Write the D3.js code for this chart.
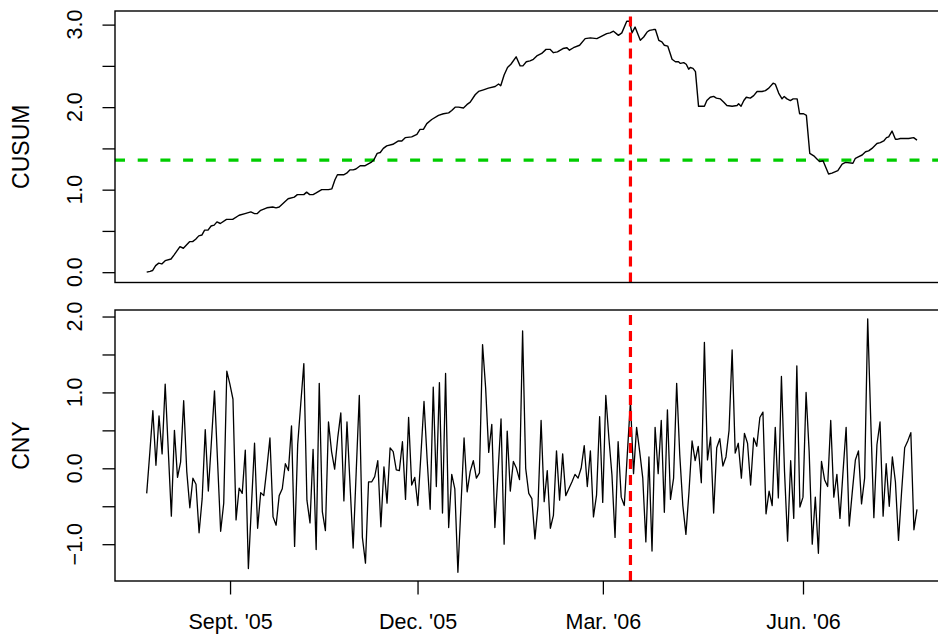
<!DOCTYPE html>
<html>
<head>
<meta charset="utf-8">
<script src="https://cdn.jsdelivr.net/npm/d3@7"></script>
<style>
  body { margin: 0; background: #fff; }
  svg { display: block; font-family: "Liberation Sans", Arial, sans-serif; }
  .tick line { stroke: #000; stroke-width: 1.3; }
</style>
</head>
<body>
<div id="chart"></div>
<script>
// CNY returns, one value per observation
const cny = [
  -0.33,0.20,0.76,0.04,0.69,0.19,1.11,0.24,-0.63,0.50,
  -0.12,0.08,0.89,-0.04,-0.52,-0.13,-0.21,-0.85,-0.40,0.51,
  -0.30,0.35,1.02,0.09,-0.83,-0.46,1.28,1.11,0.91,-0.68,
  -0.26,-0.33,0.24,-1.32,-0.49,0.33,-0.79,-0.32,-0.36,0.00,
  0.40,-0.64,-0.75,-0.36,-0.27,0.06,-0.03,0.56,-1.03,0.31,
  0.85,1.38,-0.42,-0.72,0.25,-1.07,1.12,-0.57,-0.82,0.61,
  0.22,-0.01,0.40,0.73,-0.43,0.61,-0.22,-1.05,-0.04,0.96,
  -0.91,-1.25,-0.18,-0.18,-0.11,0.10,-0.77,0.02,-0.46,0.27,
  0.22,-0.02,-0.03,0.35,-0.41,0.67,-0.22,-0.12,-0.49,0.18,
  0.88,0.13,-0.54,1.07,-0.24,1.13,-0.59,1.25,-0.78,-0.08,
  -0.27,-1.37,-0.49,0.40,-0.31,-0.04,0.10,-0.13,-0.06,1.63,
  1.06,0.21,0.58,-0.78,-0.07,0.65,-1.00,0.49,-0.30,0.09,
  0.00,-0.15,1.81,0.00,-0.33,-0.40,-0.93,-0.49,0.63,-0.44,
  -0.03,-0.79,-0.62,0.23,-0.42,0.19,-0.36,-0.27,-0.18,-0.08,
  -0.13,0.00,0.30,-0.24,0.23,-0.64,-0.35,0.68,-0.45,0.96,
  0.40,-0.09,-0.91,0.35,-0.38,-0.49,0.20,0.88,-0.07,0.54,
  0.22,-0.13,-0.97,0.15,-1.09,0.54,-0.07,0.63,-0.58,0.77,
  -0.41,-0.13,1.12,0.18,-0.49,-0.87,-0.31,0.36,0.10,0.29,
  -0.19,1.66,0.11,0.41,-0.59,0.27,0.39,0.03,0.15,0.50,
  1.56,0.20,0.33,-0.13,0.46,0.33,-0.22,0.40,0.29,0.67,
  0.74,-0.60,-0.30,-0.49,0.54,-0.39,1.21,-0.04,-0.96,0.10,
  -0.66,1.35,-0.51,-0.38,1.00,0.22,-1.00,-0.38,-1.12,0.09,
  -0.15,-0.24,0.63,-0.38,-0.08,-0.66,-0.04,0.54,-0.76,-0.31,
  0.11,0.23,-0.47,-0.13,1.97,0.62,-0.65,0.31,0.61,-0.63,
  0.06,-0.50,0.15,-0.18,-0.95,-0.31,0.27,0.36,0.47,-0.81,
  -0.54
];

// CUSUM process: observation index and value
const cusumIdx = [
  0,1.1,1.9,2.9,3.9,4.9,6,7.9,8.9,10.8,11.9,13.9,14.9,15.9,16.9,17.9,18.8,19.9,20.9,21.9,
  22.8,23.9,25.9,27.9,30,31.9,33.8,35,35.9,37,39,40.9,42,43,45.9,47.9,48.9,51,51.9,52.9,
  54,55,56.8,59,60.1,61.1,61.9,63.9,64.9,66,67,67.9,69.3,70.9,72.8,73.7,74.8,
  75.8,76.8,77.9,79.9,81.7,82.8,83.9,86,87.7,88.7,89.8,90.9,92.5,94.7,96.3,98,99,100.1,
  101.2,102.8,103.9,105,106.6,107.7,109.3,110.9,113.1,114.2,114.9,116,117.1,118.2,119.9,
  121.2,122.1,123.2,124.4,125.5,126.6,128.2,129.6,130.9,132,133.3,135.1,136.4,137.2,138.5,
  140.5,142.3,144,146.1,147.7,149.3,150.4,151.5,153.1,154.2,155.8,156.7,157.5,158.5,
  160.2,161.3,162.4,163.2,164.5,165.1,166.2,167.2,168,169.1,169.9,170.5,171.6,172.6,173.2,
  174.3,175.1,175.9,176.4,177.3,178.1,179.1,181,181.8,182.9,184,184.9,186.2,187.3,188.3,
  190,191.6,192.1,192.9,193.8,194.6,195.9,197,198.1,199.7,200.8,201.9,203.3,204,205.1,
  206.2,206.9,207.8,208.9,209.8,211.1,211.9,213.2,214.1,215.2,216.5,217.6,218.4,219.5,
  221.3,222.4,224.3,225.7,226.8,229.2,230,231.1,232.2,233.3,234.3,235.4,237,238.1,239.2,
  240.1,240.8,241.9,243,243.5,244.6,245.7,247.3,248.9,250
];
const cusumVal = [
  0.00,0.01,0.02,0.08,0.11,0.10,0.14,0.16,0.21,0.31,0.29,0.37,0.37,0.40,0.44,0.45,0.51,0.51,0.56,0.57,
  0.61,0.59,0.64,0.64,0.69,0.71,0.73,0.71,0.71,0.75,0.78,0.79,0.78,0.79,0.89,0.91,0.94,0.94,0.97,0.94,
  0.94,0.96,1.00,1.00,1.01,1.12,1.18,1.18,1.20,1.24,1.24,1.25,1.29,1.29,1.33,1.36,1.44,
  1.45,1.50,1.53,1.55,1.59,1.59,1.63,1.64,1.67,1.73,1.73,1.80,1.85,1.90,1.92,1.93,1.96,2.00,
  2.00,1.99,2.03,2.06,2.15,2.19,2.21,2.23,2.25,2.28,2.26,2.39,2.48,2.52,2.61,
  2.50,2.50,2.55,2.56,2.58,2.62,2.65,2.70,2.70,2.66,2.67,2.71,2.72,2.69,2.72,
  2.75,2.83,2.84,2.83,2.86,2.89,2.90,2.92,2.87,2.90,3.04,3.04,2.90,2.97,
  2.81,2.85,2.91,2.93,2.94,2.94,2.81,2.79,2.75,2.74,2.65,2.58,2.55,2.55,2.53,
  2.54,2.52,2.46,2.48,2.47,2.43,2.01,2.01,2.08,2.12,2.13,2.11,2.10,2.06,2.02,
  2.01,2.02,2.04,2.01,2.08,2.12,2.11,2.14,2.19,2.19,2.20,2.23,2.29,2.28,2.17,
  2.10,2.13,2.10,2.08,2.10,2.10,1.92,1.92,1.90,1.44,1.41,1.37,1.34,1.35,
  1.19,1.20,1.23,1.31,1.33,1.32,1.38,1.40,1.42,1.46,1.47,1.50,1.56,1.57,1.59,
  1.63,1.64,1.71,1.61,1.61,1.62,1.62,1.62,1.63,1.60
];

const boundary = 1.358;      // green dashed level
const breakIdx = 157;        // red dashed break point

const xTickIdx = [27.05, 87.9, 148.05, 213.0];
const xTickLabels = ["Sept. '05", "Dec. '05", "Mar. '06", "Jun. '06"];

const topTicks = [0, 0.5, 1, 1.5, 2, 2.5, 3];
const topLabelVals = [0, 1, 2, 3];
const topLabels = ["0.0", "1.0", "2.0", "3.0"];

const botTicks = [-1, -0.5, 0, 0.5, 1, 1.5, 2];
const botLabelVals = [-1, 0, 1, 2];
const botLabels = ["\u22121.0", "0.0", "1.0", "2.0"];

// Dimensions
const W = 938, H = 634;
const left = 115, right = 948;
const top1 = 11, bot1 = 282.5;
const top2 = 310, bot2 = 581;

const svg = d3.select("#chart").append("svg")
    .attr("width", W)
    .attr("height", H);

svg.append("rect").attr("width", W).attr("height", H).attr("fill", "#fff");

// Scales
const x = d3.scaleLinear()
    .domain([0, cny.length - 1])
    .range([left + 31.7, right - 31]);

const y1 = d3.scaleLinear().domain([-0.125, 3.165]).range([bot1, top1]);
const y2 = d3.scaleLinear().domain([-1.485, 2.086]).range([bot2, top2]);

function panel(yScale, yTop, yBot, ticks, labelVals, labels, title) {
    const g = svg.append("g");

    // y axis ticks
    g.append("g")
        .attr("transform", `translate(${left},0)`)
        .call(d3.axisLeft(yScale).tickValues(ticks).tickSize(12.5).tickFormat(""))
        .call(a => a.select(".domain").remove());

    g.selectAll(".ylab")
      .data(labelVals)
      .enter().append("text")
        .attr("class", "ylab")
        .attr("transform", (d) => `translate(82,${yScale(d)}) rotate(-90)`)
        .attr("text-anchor", "middle")
        .style("font-size", "21.5px")
        .text((d, i) => labels[i]);

    g.append("text")
        .attr("transform", `translate(29,${(yTop + yBot) / 2}) rotate(-90)`)
        .attr("text-anchor", "middle")
        .style("font-size", "23px")
        .text(title);

    return g;
}

const g1 = panel(y1, top1, bot1, topTicks, topLabelVals, topLabels, "CUSUM");
const g2 = panel(y2, top2, bot2, botTicks, botLabelVals, botLabels, "CNY");

// boundary line (drawn left to right)
g1.append("line")
    .attr("x1", left).attr("x2", right)
    .attr("y1", y1(boundary)).attr("y2", y1(boundary))
    .attr("stroke", "#00CD00")
    .attr("stroke-width", 3.2)
    .attr("stroke-dasharray", "10,12.7");

// cusum path
const cusum = cusumIdx.map((d, i) => [d, cusumVal[i]]);
g1.append("path")
    .datum(cusum)
    .attr("fill", "none")
    .attr("stroke", "#000")
    .attr("stroke-width", 1.4)
    .attr("stroke-linejoin", "round")
    .attr("d", d3.line().x(d => x(d[0])).y(d => y1(d[1])));

// cny path
g2.append("path")
    .datum(cny)
    .attr("fill", "none")
    .attr("stroke", "#000")
    .attr("stroke-width", 1.3)
    .attr("stroke-linejoin", "round")
    .attr("d", d3.line().x((d, i) => x(i)).y(d => y2(d)));

// break lines, drawn from bottom to top so dashes start at the bottom
[[g1, bot1, top1], [g2, bot2, top2]].forEach(([g, yb, yt]) => {
    g.append("line")
        .attr("x1", x(breakIdx)).attr("x2", x(breakIdx))
        .attr("y1", yb).attr("y2", yt)
        .attr("stroke", "#FF0000")
        .attr("stroke-width", 3.2)
        .attr("stroke-dasharray", "10,6");
});

// boxes
[[top1, bot1], [top2, bot2]].forEach(([yt, yb]) => {
    svg.append("rect")
        .attr("x", left).attr("y", yt)
        .attr("width", right - left).attr("height", yb - yt)
        .attr("fill", "none")
        .attr("stroke", "#000")
        .attr("stroke-width", 1.4);
});

// x axis on bottom panel
const xAxis = svg.append("g")
    .attr("transform", `translate(0,${bot2})`)
    .call(d3.axisBottom(x).tickValues(xTickIdx).tickSize(13.5)
        .tickFormat((d, i) => xTickLabels[i]));
xAxis.select(".domain").remove();
xAxis.selectAll("text")
    .attr("y", 47.5)
    .attr("dy", 0)
    .attr("fill", "#000")
    .style("font-size", "21.5px")
    .style("font-family", "'Liberation Sans', Arial, sans-serif");
</script>
</body>
</html>
